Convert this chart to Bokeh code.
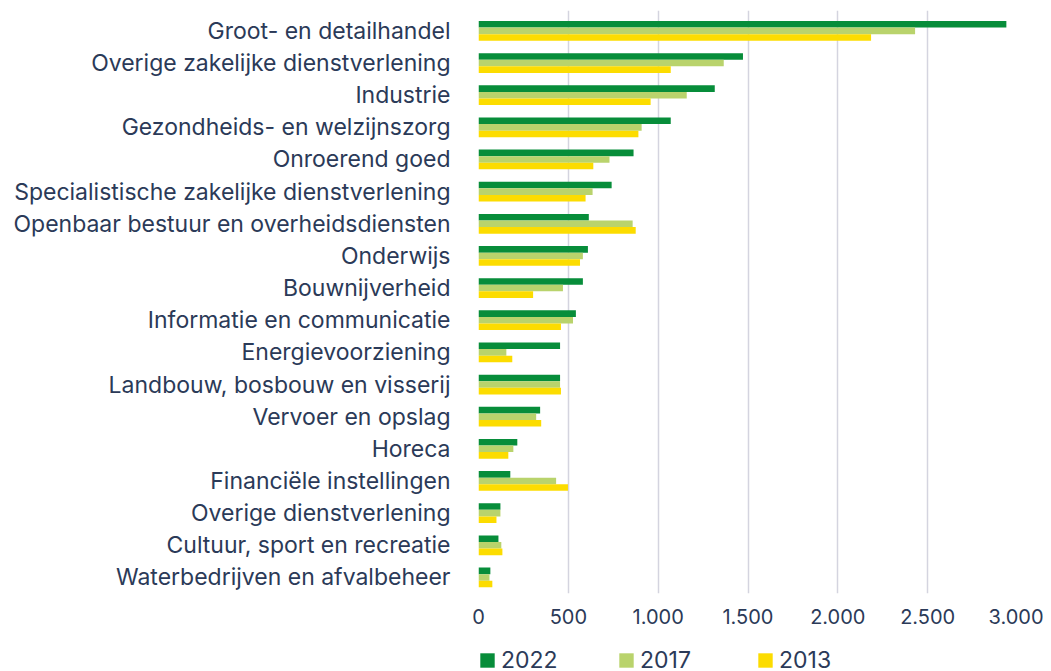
from bokeh.plotting import figure
from bokeh.layouts import column
from bokeh.models import ColumnDataSource, FixedTicker, Range1d, Legend, LegendItem
from bokeh.transform import dodge
from bokeh.embed import file_html
from bokeh.resources import INLINE

categories = [
    "Groot- en detailhandel",
    "Overige zakelijke dienstverlening",
    "Industrie",
    "Gezondheids- en welzijnszorg",
    "Onroerend goed",
    "Specialistische zakelijke dienstverlening",
    "Openbaar bestuur en overheidsdiensten",
    "Onderwijs",
    "Bouwnijverheid",
    "Informatie en communicatie",
    "Energievoorziening",
    "Landbouw, bosbouw en visserij",
    "Vervoer en opslag",
    "Horeca",
    "Financiële instellingen",
    "Overige dienstverlening",
    "Cultuur, sport en recreatie",
    "Waterbedrijven en afvalbeheer",
]
v2022 = [2938, 1472, 1315, 1070, 863, 741, 614, 609, 581, 542, 454, 454, 343, 216, 177, 122, 111, 66]
v2017 = [2430, 1365, 1159, 908, 729, 635, 858, 581, 470, 526, 155, 454, 321, 194, 432, 122, 127, 61]
v2013 = [2185, 1070, 958, 890, 639, 596, 875, 565, 304, 459, 188, 459, 349, 166, 498, 100, 133, 77]
years = ["2022", "2017", "2013"]
colors = ["#078d3a", "#b9d36c", "#fcdc00"]
tick_values = [0, 500, 1000, 1500, 2000, 2500, 3000]
tick_labels = ["0", "500", "1.000", "1.500", "2.000", "2.500", "3.000"]

TEXT = "#2b3a58"
FONT = "Inter"

n = len(categories)
ypos = [n - 1 - i + 0.5 for i in range(n)]
src = ColumnDataSource(dict(y=ypos, cat=categories, v2022=v2022, v2017=v2017, v2013=v2013))

W, H = 1043, 638
p = figure(width=W, height=H, output_backend="svg", toolbar_location=None,
           x_range=Range1d(0, 3000), y_range=Range1d(0, n + 0.134),
           min_border_left=478, min_border_right=W - 1017, min_border_top=10,
           min_border_bottom=H - 593)

bh = 0.205
for key, off, col in zip(["v2022", "v2017", "v2013"], [bh, 0, -bh], colors):
    p.hbar(y=dodge("y", off, range=p.y_range), left=0, right=key, height=bh,
           fill_color=col, line_color=None, source=src)

p.outline_line_color = None
p.ygrid.visible = False
p.xgrid.grid_line_color = "#d4d4df"
p.xgrid.grid_line_width = 1.5

p.xaxis.ticker = FixedTicker(ticks=tick_values)
p.xaxis.major_label_overrides = {v: l for v, l in zip(tick_values, tick_labels)}
p.yaxis.ticker = FixedTicker(ticks=ypos)
p.yaxis.major_label_overrides = {y: c for y, c in zip(ypos, categories)}

for ax in (p.xaxis[0], p.yaxis[0]):
    ax.axis_line_color = None
    ax.major_tick_line_color = None
    ax.minor_tick_line_color = None
    ax.major_label_text_font = FONT
    ax.major_label_text_color = TEXT
p.yaxis.major_label_standoff = 22
p.yaxis.major_label_text_font_size = "23px"
p.xaxis.major_label_text_font_size = "20px"
p.xaxis.major_label_standoff = 9

# legend strip below the chart (legend swatches use off-range dummy bars)
lf = figure(width=W, height=33, output_backend="svg", toolbar_location=None,
            x_axis_location=None, y_axis_location=None,
            min_border_left=471, min_border_top=8, min_border_right=0, min_border_bottom=0,
            x_range=Range1d(0, 1), y_range=Range1d(0, 1))
lf.outline_line_color = None
lf.grid.visible = False
leg_renderers = []
for col in colors:
    leg_renderers.append(lf.hbar(y=[-10], left=[0], right=[1], height=0.1,
                                 fill_color=col, line_color=None))
legend = Legend(items=[LegendItem(label=y, renderers=[r]) for y, r in zip(years, leg_renderers)],
                orientation="horizontal", location="top_left",
                glyph_width=18, glyph_height=18, label_standoff=5,
                label_width=81, spacing=35, padding=0, margin=0,
                label_text_font=FONT, label_text_font_size="23px", label_text_color=TEXT,
                border_line_color=None, background_fill_alpha=0)
lf.add_layout(legend)

open("out.html", "w").write(file_html(column(p, lf, spacing=0), INLINE))
